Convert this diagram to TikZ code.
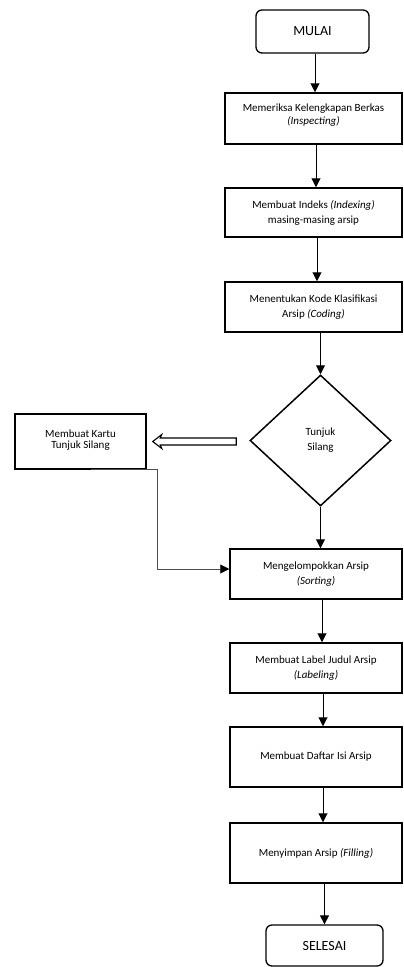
\documentclass[tikz,border=0pt]{standalone}
\usepackage{fontspec}
\setmainfont{Carlito}
\usetikzlibrary{shapes.geometric,arrows.meta,calc}
\begin{document}
\begin{tikzpicture}[x=1pt,y=-1pt,
  box/.style={draw=black,line width=1.5pt,rectangle,inner sep=0pt,align=center,font=\fontsize{11}{15}\selectfont},
  term/.style={draw=black,line width=1.3pt,rounded corners=6pt,inner sep=0pt,font=\fontsize{14}{16}\selectfont},
  dec/.style={draw=black,line width=1.5pt,diamond,inner sep=0pt,align=center,font=\fontsize{11}{15}\selectfont},
  arr/.style={line width=1pt,-{Triangle[width=9pt,length=9pt]}},
  elbow/.style={line width=0.8pt,draw=black!70,-{Triangle[width=9pt,length=9pt,color=black]}},
  hollow/.style={draw=black,line width=1.1pt,fill=white,line join=miter}
]
\useasboundingbox (0,0) rectangle (404,967);
\node[term,minimum width=113,minimum height=43] (mulai) at (312.5,31.5) {MULAI};
\node[box,minimum width=177,minimum height=51] (b1) at (313.5,118.5) {\raisebox{9pt}{\shortstack{Memeriksa Kelengkapan Berkas\\\textit{(Inspecting)}}}};
\node[box,minimum width=177,minimum height=49] (b2) at (313.5,212.5) {Membuat Indeks \textit{(Indexing)}\\masing-masing arsip};
\node[box,minimum width=177,minimum height=50] (b3) at (313.5,307) {Menentukan Kode Klasifikasi\\Arsip \textit{(Coding)}};
\node[dec,minimum width=141,minimum height=131] (dia) at (320.5,440.5) {Tunjuk\\Silang};
\node[box,minimum width=131,minimum height=55] (kartu) at (80.5,441.5) {\raisebox{4pt}{\shortstack{Membuat Kartu\\Tunjuk Silang}}};
\node[box,minimum width=172,minimum height=50] (b4) at (316,574) {Mengelompokkan Arsip\\\textit{(Sorting)}};
\node[box,minimum width=172,minimum height=50] (b5) at (316,668) {Membuat Label Judul Arsip\\\textit{(Labeling)}};
\node[box,minimum width=172,minimum height=60] (b6) at (316,757) {Membuat Daftar Isi Arsip};
\node[box,minimum width=172,minimum height=60] (b7) at (316,853) {Menyimpan Arsip \textit{(Filling)}};
\node[term,minimum width=117,minimum height=41] (selesai) at (324.5,945.5) {SELESAI};

\draw[arr] ([xshift=2.5pt]mulai.south) -- ([xshift=2.5pt]mulai.south |- b1.north);
\draw[arr] ([xshift=2.5pt]b1.south) -- ([xshift=2.5pt]b1.south |- b2.north);
\draw[arr] ([xshift=3.5pt]b2.south) -- ([xshift=3.5pt]b2.south |- b3.north);
\draw[arr] (b3.south -| dia.north) -- (dia.north);
\draw[arr] (dia.south) -- (dia.south |- b4.north);
\draw[arr] ([xshift=6pt]b4.south) -- ([xshift=6pt]b4.south |- b5.north);
\draw[arr] ([xshift=7pt]b5.south) -- ([xshift=7pt]b5.south |- b6.north);
\draw[arr] ([xshift=7pt]b6.south) -- ([xshift=7pt]b6.south |- b7.north);
\draw[arr] (b7.south -| selesai.north) -- (selesai.north);

% hollow block arrow from the decision to the card box
\coordinate (hs) at ([xshift=-13pt]dia.west);
\coordinate (ht) at ([xshift=6pt]kartu.east);
\draw[hollow] (ht) -- ($(ht)+(9,-7)$) -- ($(ht)+(7.5,-3.5)$) -- ($(hs |- ht)+(0,-3.5)$)
  -- ($(hs |- ht)+(0,3.5)$) -- ($(ht)+(7.5,3.5)$) -- ($(ht)+(9,7)$) -- cycle;
\draw[elbow] ([xshift=10pt]kartu.south) -- ([xshift=11pt]kartu.south east) |- ([yshift=5pt]b4.west);
\end{tikzpicture}
\end{document}
